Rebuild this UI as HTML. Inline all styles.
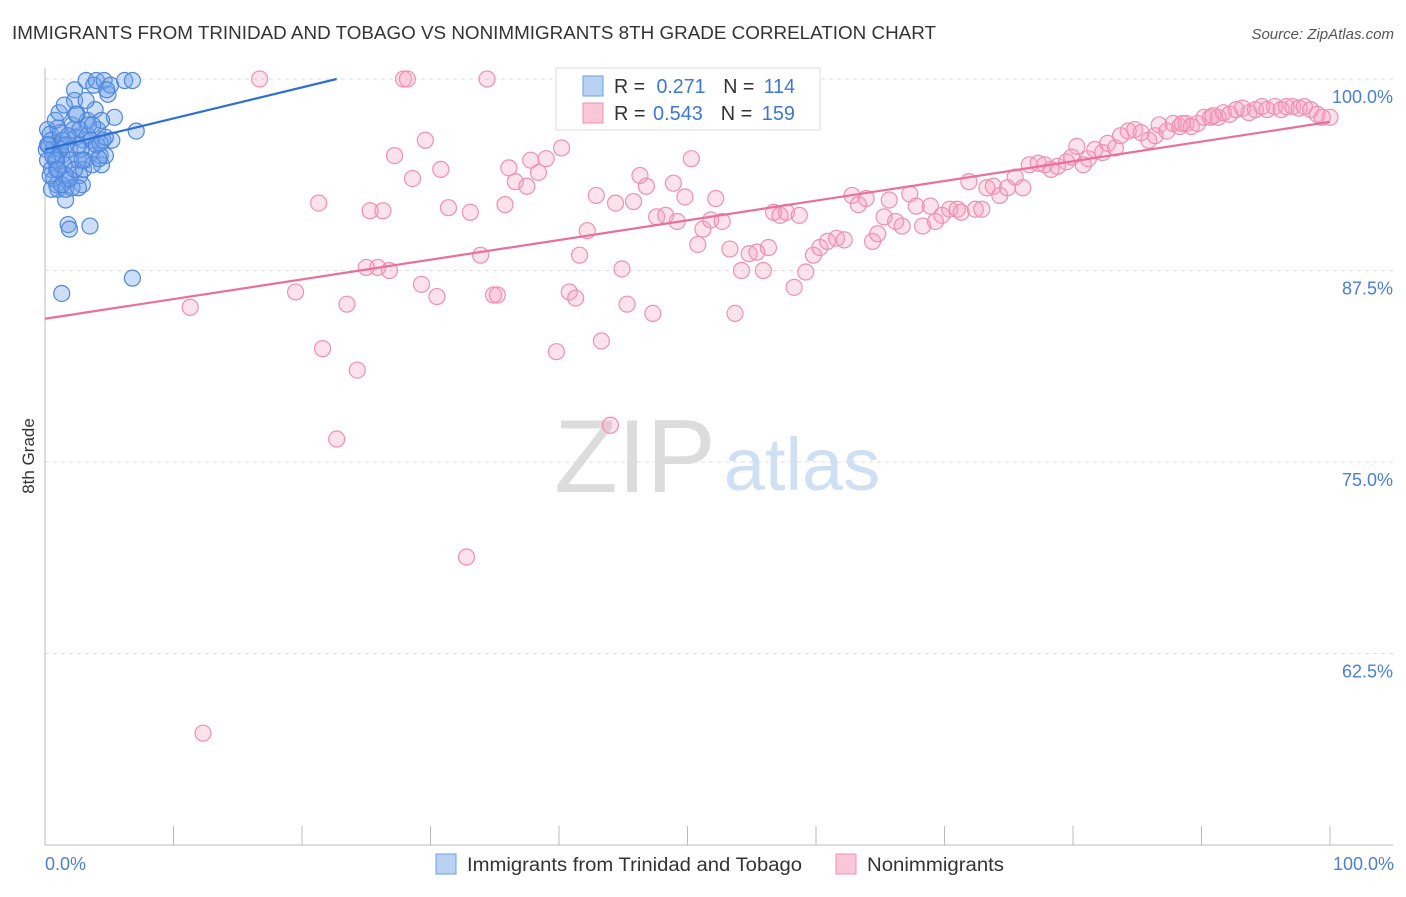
<!DOCTYPE html>
<html><head><meta charset="utf-8"><style>
body{margin:0;background:#fff;font-family:"Liberation Sans",sans-serif;}
svg text{font-family:"Liberation Sans",sans-serif;}
</style></head><body>
<svg id="chart" width="1406" height="892" xmlns="http://www.w3.org/2000/svg">
<text x="12" y="39" font-size="18" fill="#333" textLength="924" lengthAdjust="spacingAndGlyphs">IMMIGRANTS FROM TRINIDAD AND TOBAGO VS NONIMMIGRANTS 8TH GRADE CORRELATION CHART</text>
<text x="1394" y="39" font-size="15" fill="#555" text-anchor="end" font-style="italic">Source: ZipAtlas.com</text>
<g>
<text x="635" y="492" font-size="104" fill="#dcdcdc" text-anchor="middle" font-family="Liberation Serif,serif">ZIP</text>
<text x="802" y="490" font-size="74" fill="#cfe0f4" text-anchor="middle">atlas</text>
</g>
<g id="grid"></g><g id="axes"></g>
<g id="pink"></g><g id="blue"></g><g id="trend"></g>
<text x="34" y="456" font-size="17" fill="#333" text-anchor="middle" transform="rotate(-90 34 456)">8th Grade</text>
<text x="45" y="870" font-size="18" fill="#4a7fd4">0.0%</text>
<text x="1394" y="870" font-size="18" fill="#4a7fd4" text-anchor="end">100.0%</text>
<g>
<rect x="556" y="68" width="264" height="62" fill="#fff" stroke="#ddd"/>
<rect x="583" y="76" width="20" height="20" fill="#b9d2f3" stroke="#6d9ee0"/>
<rect x="583" y="103" width="20" height="20" fill="#f9c7d6" stroke="#ef92b3"/>
<text x="614" y="93" font-size="20" fill="#333" textLength="181" lengthAdjust="spacingAndGlyphs">R = <tspan fill="#3d77d6" dx="6">0.271</tspan><tspan dx="18">N = </tspan><tspan fill="#3d77d6" dx="4">114</tspan></text>
<text x="614" y="120" font-size="20" fill="#333" textLength="181" lengthAdjust="spacingAndGlyphs">R = <tspan fill="#3d77d6" dx="2">0.543</tspan><tspan dx="18">N = </tspan><tspan fill="#3d77d6" dx="4">159</tspan></text>
</g>
<g>
<rect x="436" y="854" width="20" height="20" fill="#b9d2f3" stroke="#6d9ee0"/>
<text x="467" y="871" font-size="19" fill="#333" textLength="335" lengthAdjust="spacingAndGlyphs">Immigrants from Trinidad and Tobago</text>
<rect x="836" y="854" width="20" height="20" fill="#f9c7d6" stroke="#ef92b3"/>
<text x="867" y="871" font-size="19" fill="#333" textLength="137" lengthAdjust="spacingAndGlyphs">Nonimmigrants</text>
</g>
</svg>
<script>
const yTicks=[100,87.5,75,62.5];
const yTickLabels=["100.0%","87.5%","75.0%","62.5%"];
const xTicks=[0,10,20,30,40,50,60,70,80,90,100];
const pinkX=[11.3,12.3,16.7,19.5,21.3,21.6,22.7,23.5,24.3,25.0,25.3,25.9,26.3,26.8,27.2,27.9,28.2,28.6,29.3,29.6,30.5,30.8,31.4,32.8,33.1,33.9,34.4,34.9,35.2,35.8,36.1,36.6,37.5,37.8,38.4,39.0,39.8,40.2,40.8,41.3,41.6,42.2,42.9,43.3,44.0,44.4,44.9,45.3,45.8,46.3,46.8,47.3,47.6,48.3,48.9,49.2,49.8,50.3,50.8,51.2,51.8,52.2,52.7,53.3,53.7,54.2,54.8,55.4,55.9,56.3,56.7,57.2,57.7,58.3,58.7,59.2,59.8,60.3,60.9,61.6,62.2,62.8,63.3,63.9,64.4,64.8,65.3,65.7,66.2,66.7,67.3,67.8,68.3,68.9,69.3,69.8,70.4,71.0,71.3,71.9,72.4,72.9,73.3,73.8,74.3,74.9,75.5,76.1,76.6,77.3,77.8,78.3,78.8,79.5,79.9,80.3,80.8,81.2,81.7,82.3,82.7,83.3,83.7,84.3,84.8,85.3,85.9,86.4,86.7,87.3,87.8,88.3,88.8,89.2,89.7,90.2,90.7,91.3,91.7,92.2,92.7,93.2,93.7,94.2,94.7,95.1,95.7,96.2,96.6,97.1,97.6,98.0,98.5,99.0,99.4,100,90.9,88.5];
const pinkY=[85.1,57.3,100,86.1,91.9,82.4,76.5,85.3,81.0,87.7,91.4,87.7,91.4,87.5,95.0,100,100,93.5,86.6,96.0,85.8,94.1,91.6,68.8,91.3,88.5,100,85.9,85.9,91.8,94.2,93.3,93.0,94.7,93.9,94.8,82.2,95.5,86.1,85.7,88.5,90.1,92.4,82.9,77.4,91.9,87.6,85.3,92.0,93.7,93.0,84.7,91.0,91.1,93.2,90.7,92.3,94.8,89.2,90.2,90.8,92.2,90.7,88.9,84.7,87.5,88.6,88.7,87.5,89.0,91.3,91.1,91.3,86.4,91.1,87.4,88.5,89.0,89.4,89.6,89.5,92.4,91.8,92.2,89.4,89.9,91.0,92.1,90.7,90.4,92.5,91.7,90.4,91.7,90.7,91.1,91.5,91.5,91.3,93.3,91.5,91.5,92.9,93.0,92.4,92.9,93.6,92.9,94.4,94.5,94.4,94.1,94.3,94.6,94.9,95.6,94.4,94.8,95.4,95.2,95.8,95.5,96.3,96.6,96.7,96.5,96.0,96.3,97.0,96.6,97.1,96.9,97.1,96.9,97.1,97.5,97.5,97.5,97.8,97.7,98.0,98.1,97.8,98.0,98.2,98.0,98.2,98.0,98.2,98.2,98.1,98.2,98.0,97.7,97.5,97.5,97.6,97.1];
const blueX=[0.2,0.4,0.5,0.6,0.8,0.9,0.9,1.0,1.2,1.3,1.5,1.6,1.8,1.9,2.1,2.3,2.3,2.5,2.6,2.7,2.9,3.0,3.2,3.3,3.5,3.7,3.8,4.0,4.1,4.3,4.4,4.6,4.7,4.9,5.1,5.2,5.4,6.2,6.8,7.1,1.3,6.8,0.1,0.2,0.3,0.5,0.7,1.0,1.2,1.4,1.6,1.7,1.9,2.0,2.2,2.4,2.6,2.8,3.0,3.1,3.3,3.4,3.6,3.7,3.9,4.0,4.2,4.4,4.5,0.4,0.5,0.8,1.1,1.5,1.6,2.1,2.6,2.7,1.2,0.9,0.6,0.2,1.3,1.9,2.3,2.9,4.3,3.7,4.8,3.2,2.4,1.8,4.7,1.6,1.0];
const blueY=[96.7,96.4,96.0,95.4,94.7,94.1,93.1,92.8,95.7,95.0,94.4,92.1,90.5,90.2,97.0,99.3,98.6,97.7,94.7,93.7,93.1,96.0,99.9,97.3,90.4,95.4,99.6,99.9,96.7,95.0,94.4,99.9,95.0,99.0,99.6,96.0,97.5,99.9,99.9,96.6,86.0,87.0,95.4,94.7,95.7,94.1,93.5,96.8,96.5,96.0,93.7,93.4,95.4,94.7,96.7,96.2,95.7,95.4,94.1,94.7,96.3,97.0,96.0,94.4,98.0,95.7,94.8,97.3,96.0,93.7,92.8,97.3,97.8,98.3,92.8,92.9,92.9,96.7,95.4,94.7,95.0,95.7,93.1,93.5,94.1,94.7,95.8,97.0,99.3,98.6,97.7,96.3,96.2,95.7,94.1];
const pinkTrend=[[0,84.35],[100,97.2]];
const blueTrend=[[0,95.4],[22.7,100]];
const NS='http://www.w3.org/2000/svg';
const X0=45,X1=1330,YT=79,YB=845,VMIN=50,VMAX=100;
function xs(v){return X0+(X1-X0)*v/100;}
function ys(v){return YT+(YB-YT)*(VMAX-v)/(VMAX-VMIN);}
function mk(t,a,p){const e=document.createElementNS(NS,t);for(const k in a)e.setAttribute(k,a[k]);p.appendChild(e);return e;}
const grid=document.getElementById('grid'),axes=document.getElementById('axes');
yTicks.forEach((v,i)=>{
 const l=mk('line',{x1:X0,x2:1393,y1:ys(v),y2:ys(v),stroke:'#ddd','stroke-dasharray':'4,4'},grid);
 
 
 const t=mk('text',{x:1393,y:ys(v)+24,'font-size':18,fill:'#4a7fd4','text-anchor':'end'},axes);
 t.textContent=yTickLabels[i];
 
 
});
const xa=mk('line',{x1:X0,x2:1393,y1:YB,y2:YB,stroke:'#bbb'},axes);


const ya=mk('line',{x1:X0,x2:X0,y1:68,y2:YB,stroke:'#bbb'},axes);


xTicks.forEach(v=>{
 const t=mk('line',{x1:xs(v),x2:xs(v),y1:826,y2:YB,stroke:'#bbb'},axes);
 
 
});
const pg=document.getElementById('pink');
pinkX.forEach((v,i)=>{
 const c=mk('circle',{cx:xs(v),cy:ys(pinkY[i]),r:8,fill:'rgba(244,160,188,0.3)',stroke:'#f08fb2','stroke-width':1.2},pg);
 
 
});
const bg=document.getElementById('blue');
blueX.forEach((v,i)=>{
 const c=mk('circle',{cx:xs(v),cy:ys(blueY[i]),r:8,fill:'rgba(110,160,235,0.35)',stroke:'#4f86dc','stroke-width':1.2},bg);
 
 
});
const tg=document.getElementById('trend');
const pl=mk('line',{x1:xs(pinkTrend[0][0]),y1:ys(pinkTrend[0][1]),x2:xs(pinkTrend[1][0]),y2:ys(pinkTrend[1][1]),stroke:'#e8709a','stroke-width':2.2},tg);


const bl=mk('line',{x1:xs(blueTrend[0][0]),y1:ys(blueTrend[0][1]),x2:xs(blueTrend[1][0]),y2:ys(blueTrend[1][1]),stroke:'#2f6fd0','stroke-width':2.2},tg);


</script>
</body></html>
